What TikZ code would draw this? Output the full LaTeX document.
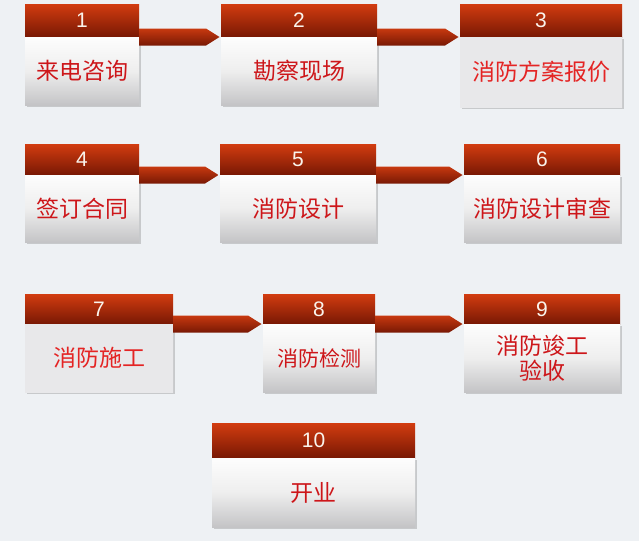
\documentclass[tikz,border=0pt]{standalone}
\usepackage{fontspec}
\setmainfont{Liberation Sans}
\newfontfamily\cjk{Noto Sans CJK SC}
\usetikzlibrary{calc,shadows}
\definecolor{bgc}{RGB}{238,241,244}
\definecolor{hdrtop}{RGB}{210,60,16}
\definecolor{hdrbot}{RGB}{120,24,4}
\definecolor{numc}{RGB}{250,244,236}
\definecolor{bodytop}{RGB}{253,253,253}
\definecolor{bodymid}{RGB}{238,238,238}
\definecolor{bodybot}{RGB}{196,196,198}
\definecolor{flatc}{RGB}{232,232,234}
\definecolor{txtc}{RGB}{205,22,26}
\definecolor{txtlight}{RGB}{228,36,36}
\tikzset{
  hdr/.style={anchor=north west, inner sep=0pt, outer sep=0pt,
    top color=hdrtop, bottom color=hdrbot, text=numc,
    font=\fontsize{21}{21}\selectfont},
  body/.style={anchor=north west, inner sep=0pt, outer sep=0pt,
    top color=bodytop, bottom color=bodybot, middle color=bodymid, text=txtc, align=center,
    font=\cjk\fontsize{23}{25}\selectfont,
    drop shadow={shadow xshift=1.5pt, shadow yshift=-2pt, opacity=0.35, fill=gray}},
  flatbody/.style={body, top color=flatc, bottom color=flatc, middle color=flatc, text=txtlight},
  band/.style={top color=hdrtop!95!black, bottom color=hdrbot}
}
\newcommand\linkband[2]{%
  \shade[band] ($(#1.south east)+(0,-8.5)$) -- ($(#2.south west)+(-15,-8.5)$)
    -- ($(#2.south west)+(-1.5,0)$) -- ($(#2.south west)+(-15,8.5)$)
    -- ($(#1.south east)+(0,8.5)$) -- cycle;}
\begin{document}
\begin{tikzpicture}[x=1pt,y=-1pt]
\fill[bgc] (0,0) rectangle (639,541);
\useasboundingbox (0,0) rectangle (639,541);
% row 1
\node[hdr, minimum width=114pt, minimum height=33pt] (h1) at (25,4) {1};
\node[body, minimum width=114pt, minimum height=68pt] (b1) at (h1.south west) {来电咨询};
\node[hdr, minimum width=156pt, minimum height=33pt] (h2) at (221,4) {2};
\node[body, minimum width=156pt, minimum height=68pt] (b2) at (h2.south west) {勘察现场};
\node[hdr, minimum width=162pt, minimum height=33pt] (h3) at (460,4) {3};
\node[flatbody, minimum width=162pt, minimum height=70pt] (b3) at (h3.south west) {消防方案报价};
% row 2
\node[hdr, minimum width=114pt, minimum height=31pt] (h4) at (25,144) {4};
\node[body, minimum width=114pt, minimum height=67pt] (b4) at (h4.south west) {签订合同};
\node[hdr, minimum width=156pt, minimum height=31pt] (h5) at (220,144) {5};
\node[body, minimum width=156pt, minimum height=67pt] (b5) at (h5.south west) {消防设计};
\node[hdr, minimum width=156pt, minimum height=31pt] (h6) at (464,144) {6};
\node[body, minimum width=156pt, minimum height=67pt] (b6) at (h6.south west) {消防设计审查};
% row 3
\node[hdr, minimum width=148pt, minimum height=30pt] (h7) at (25,294) {7};
\node[flatbody, minimum width=148pt, minimum height=68pt] (b7) at (h7.south west) {消防施工};
\node[hdr, minimum width=112pt, minimum height=30pt] (h8) at (263,294) {8};
\node[body, minimum width=112pt, minimum height=68pt, font=\cjk\fontsize{21}{25}\selectfont] (b8) at (h8.south west) {消防检测};
\node[hdr, minimum width=156pt, minimum height=30pt] (h9) at (464,294) {9};
\node[body, minimum width=156pt, minimum height=68pt] (b9) at (h9.south west) {消防竣工\\验收};
% last
\node[hdr, minimum width=203pt, minimum height=35pt] (h10) at (212,423) {10};
\node[body, minimum width=203pt, minimum height=69pt] (b10) at (h10.south west) {开业};
% connectors
\linkband{h1}{h2}
\linkband{h2}{h3}
\linkband{h4}{h5}
\linkband{h5}{h6}
\linkband{h7}{h8}
\linkband{h8}{h9}
\end{tikzpicture}
\end{document}
